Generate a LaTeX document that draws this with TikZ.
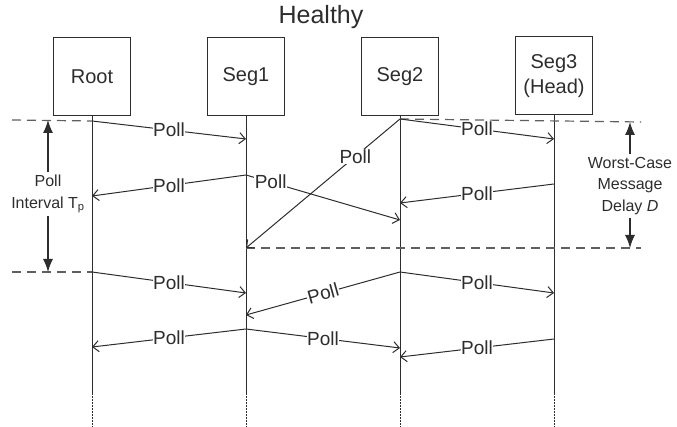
\documentclass[tikz,border=0pt]{standalone}
\usepackage{fontspec}
\setmainfont{Liberation Sans}
\usetikzlibrary{arrows.meta,positioning,calc}
\definecolor{ink}{RGB}{45,45,45}
\definecolor{rule}{RGB}{95,95,95}
\tikzset{
  actor/.style = {draw=ink, line width=1pt, minimum width=77pt, minimum height=78pt,
                  align=center, inner sep=0pt, text=ink, font=\fontsize{20}{25}\selectfont},
  life/.style  = {draw=ink, line width=1pt},
  tail/.style  = {draw=ink, line width=1pt, dash pattern=on 1.5pt off 1.5pt},
  msg/.style   = {-{Straight Barb[length=6pt,width=11pt]}, draw=ink, line width=1pt},
  lbl/.style   = {fill=white, inner sep=0.5pt, text=ink, font=\fontsize{19}{22}\selectfont},
  guide/.style = {draw=rule, line width=1.2pt, dash pattern=on 9pt off 6pt},
  span/.style  = {-{Latex[length=13pt,width=10pt]}, draw=ink, line width=1.2pt},
  note/.style  = {align=center, text=ink, inner sep=3pt, font=\fontsize{16}{21.5}\selectfont},
}

\begin{document}
\begin{tikzpicture}[x=1pt, y=-1pt]
\useasboundingbox (0,0) rectangle (677,427);
\node[text=ink, font=\fontsize{25}{30}\selectfont] (title) at (321,17) {Healthy};
% the four parties
\node[actor] (root) at (92,77)  {Root};
\node[actor] (seg1) at (246,77) {Seg1};
\node[actor] (seg2) at (400,77) {Seg2};
\node[actor] (seg3) at (554,76) {Seg3\\(Head)};

% lifelines, solid then dotted
\coordinate (rootend) at (92,393);
\coordinate (seg1end) at (246,393);
\coordinate (seg2end) at (400,393);
\coordinate (seg3end) at (554,393);
\draw[life] (root) -- (rootend);
\draw[life] (seg1) -- (seg1end);
\draw[life] (seg2) -- (seg2end);
\draw[life] (seg3) -- (seg3end);
\draw[tail] (rootend) -- ++(0,34);
\draw[tail] (seg1end) -- ++(0,34);
\draw[tail] (seg2end) -- ++(0,34);
\draw[tail] (seg3end) -- ++(0,34);

% message points on the lifelines
\coordinate (r1) at (92,121);  \coordinate (r2) at (92,196);
\coordinate (r3) at (92,272);  \coordinate (r4) at (92,347);
\coordinate (a1) at (246,139); \coordinate (a2) at (246,175);
\coordinate (a3) at (246,248); \coordinate (a4) at (246,293);
\coordinate (a5) at (246,315); \coordinate (a6) at (246,329);
\coordinate (b1) at (400,119); \coordinate (b2) at (400,203);
\coordinate (b3) at (400,220); \coordinate (b4) at (400,272);
\coordinate (b5) at (400,348); \coordinate (b6) at (400,357);
\coordinate (c1) at (554,139); \coordinate (c2) at (554,184);
\coordinate (c3) at (554,293); \coordinate (c4) at (554,339);

% interval guides
\coordinate (gl1) at (12,120);  \coordinate (gl2) at (12,272);
\coordinate (gr1) at (641,122); \coordinate (gr2) at (641,248);
\draw[guide] (gl1) -- (r1);
\draw[guide] (gl2) -- (r3);
\draw[guide] (b1) -- (gr1);
\draw[guide] (a3) -- (gr2);

% polls
\draw[msg] (r1) -- node[lbl] {Poll} (a1);
\draw[msg] (b1) -- node[lbl, pos=0.29] {Poll} (a3);
\draw[msg] (b1) -- node[lbl] {Poll} (c1);
\draw[msg] (a2) -- node[lbl] {Poll} (r2);
\draw[msg] (a2) -- node[lbl, pos=0.16] {Poll} (b3);
\draw[msg] (c2) -- node[lbl] {Poll} (b2);
\draw[msg] (r3) -- node[lbl] {Poll} (a4);
\draw[msg] (b4) -- node[lbl, sloped] {Poll} (a5);
\draw[msg] (b4) -- node[lbl] {Poll} (c3);
\draw[msg] (a6) -- node[lbl] {Poll} (r4);
\draw[msg] (a6) -- node[lbl] {Poll} (b5);
\draw[msg] (c4) -- node[lbl] {Poll} (b6);

% poll interval and worst-case delay
\node[note] (tp) at (48,194) {Poll\\Interval T\textsubscript{p}};
\coordinate (tpa) at (48,120); \coordinate (tpb) at (48,272);
\draw[span] (tp) -- (tpa);
\draw[span] (tp) -- (tpb);
\node[note] (wd) at (630,186) {Worst-Case\\Message\\Delay \textit{D}};
\coordinate (wda) at (630,122); \coordinate (wdb) at (630,248);
\draw[span] (wd) -- (wda);
\draw[span] (wd) -- (wdb);
\end{tikzpicture}
\end{document}
